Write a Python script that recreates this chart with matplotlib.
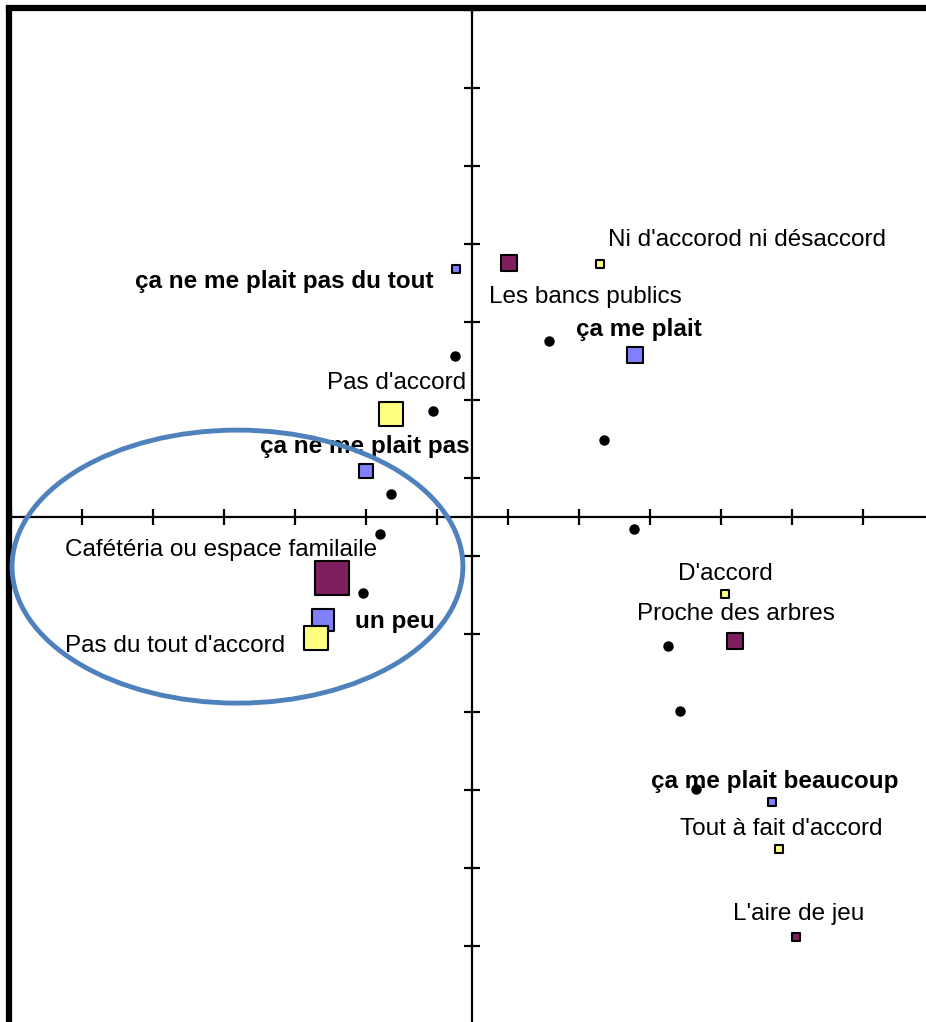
import numpy as np
import matplotlib.pyplot as plt
from matplotlib.patches import Ellipse

# Modalités (coordonnées factorielles)
lieux = ["Les bancs publics", "Cafétéria ou espace familaile",
         "Proche des arbres", "L'aire de jeu"]
lieux_x = [0.103, -0.396, 0.739, 0.911]
lieux_y = [0.651, -0.157, -0.319, -1.078]
lieux_masse = [16, 34, 16, 8]

plaisir = ["ça ne me plait pas du tout", "ça me plait", "ça ne me plait pas",
           "un peu", "ça me plait beaucoup"]
plaisir_x = [-0.046, 0.458, -0.299, -0.421, 0.844]
plaisir_y = [0.635, 0.415, 0.117, -0.265, -0.732]
plaisir_masse = [8, 16, 14, 22, 8]

accord = ["Ni d'accorod ni désaccord", "Pas d'accord", "Pas du tout d'accord",
          "D'accord", "Tout à fait d'accord"]
accord_x = [0.359, -0.230, -0.441, 0.711, 0.863]
accord_y = [0.648, 0.264, -0.311, -0.198, -0.851]
accord_masse = [8, 24, 24, 8, 8]

# individus (points noirs)
ind_x = [-0.049, 0.215, -0.111, 0.370, -0.230, -0.261, 0.455, -0.308, 0.551, 0.585, 0.630]
ind_y = [0.412, 0.451, 0.271, 0.197, 0.058, -0.044, -0.031, -0.196, -0.332, -0.499, -0.699]

# placement des étiquettes (x, y, alignement)
pos_lieux = [(0.046, 0.563, "left"), (-1.148, -0.086, "left"),
             (0.463, -0.250, "left"), (0.734, -1.019, "left")]
pos_plaisir = [(-0.111, 0.602, "right"), (0.292, 0.479, "left"),
               (-0.007, 0.181, "right"), (-0.331, -0.268, "left"),
               (0.503, -0.678, "left")]
pos_accord = [(0.382, 0.709, "left"), (-0.215, 0.342, "center"),
              (-1.148, -0.332, "left"), (0.579, -0.147, "left"),
              (0.585, -0.801, "left")]

W, H = 926, 1022
fig = plt.figure(figsize=(W / 100, H / 100), dpi=100)
ax = fig.add_axes([8.5 / W, 0, 1 - 8.5 / W, 1 - 8.5 / H])
ax.set_xlim(-1.307, 1.2775)
ax.set_ylim(-1.2956, 1.303)

for s in ["right", "bottom"]:
    ax.spines[s].set_visible(False)
for s in ["left", "top"]:
    ax.spines[s].set_linewidth(4.5)
ax.set_xticks([])
ax.set_yticks([])

# axes passant par l'origine
ax.axhline(0, color="black", lw=1.6, zorder=1)
ax.axvline(0, color="black", lw=1.6, zorder=1)
xt = np.arange(-1.3, 1.2, 0.2)
yt = np.arange(-1.1, 1.4, 0.2)
ax.plot(xt, np.zeros_like(xt), ls="none", marker="|", ms=11, mew=1.6, color="black", zorder=1, clip_on=False)
ax.plot(np.zeros_like(yt), yt, ls="none", marker="_", ms=11, mew=1.6, color="black", zorder=1, clip_on=False)

fs = 17.5
fam = "Liberation Sans"


def serie(xs, ys, masses, noms, pos, couleur, gras):
    taille = (np.array(masses) * 0.72) ** 2
    ax.scatter(xs, ys, s=taille, marker="s", c=couleur, edgecolors="black",
               linewidths=1.5, zorder=4)
    for nom, (tx, ty, ha) in zip(noms, pos):
        ax.text(tx, ty, nom, ha=ha, va="center", fontsize=fs, family=fam,
                fontweight="bold" if gras else "normal", zorder=3)


serie(lieux_x, lieux_y, lieux_masse, lieux, pos_lieux, "#7F1F5F", False)
serie(plaisir_x, plaisir_y, plaisir_masse, plaisir, pos_plaisir, "#8080FF", True)
serie(accord_x, accord_y, accord_masse, accord, pos_accord, "#FFFF80", False)

ax.plot(ind_x, ind_y, ls="none", marker="o", ms=6.5, color="black", zorder=5)

# ellipse de regroupement
ax.add_patch(Ellipse((-0.662, -0.128), 1.270, 0.700, fill=False,
                     edgecolor="#4F81BD", lw=3.5, zorder=6))

fig.savefig("out.png", dpi=100)
